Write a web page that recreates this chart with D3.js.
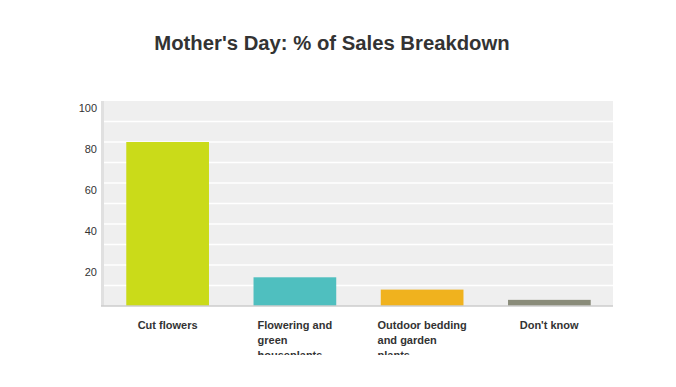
<!DOCTYPE html>
<html>
<head>
<meta charset="utf-8">
<script src="https://cdn.jsdelivr.net/npm/d3@7"></script>
<style>
  body { margin: 0; background: #fff; }
  text { font-family: "Liberation Sans", Arial, Helvetica, sans-serif; }
</style>
</head>
<body>
<div id="chart"></div>
<script>
// data
let categories = ["Cut flowers", "Flowering and green houseplants", "Outdoor bedding and garden plants", "Don't know"];
let labelLines = [["Cut flowers"], ["Flowering and", "green", "houseplants"], ["Outdoor bedding", "and garden", "plants"], ["Don't know"]];
let values = [80, 14, 8, 3];
let colors = ["#cadb19", "#4fbfbf", "#f0b21e", "#8a8c7a"];
let tickValues = [20, 40, 60, 80, 100];

let width = 676, height = 387;
let margin = {top: 101, right: 63, bottom: 81, left: 104};
let innerW = width - margin.left - margin.right;
let innerH = height - margin.top - margin.bottom;

let svg = d3.select("#chart").append("svg")
    .attr("width", width)
    .attr("height", height);

// title
svg.append("text")
    .attr("x", 332)
    .attr("y", 50)
    .attr("text-anchor", "middle")
    .attr("font-size", 20.3)
    .attr("font-weight", "bold")
    .attr("fill", "#333")
    .text("Mother's Day: % of Sales Breakdown");

let g = svg.append("g")
    .attr("transform", "translate(" + margin.left + "," + margin.top + ")");

// scales
let x = d3.scaleBand()
    .domain(categories)
    .range([0, innerW])
    .paddingInner(0.35)
    .paddingOuter(0.175);

let y = d3.scaleLinear()
    .domain([0, 100])
    .range([innerH, 0]);

// background
g.append("rect")
    .attr("width", innerW)
    .attr("height", innerH)
    .attr("fill", "#efefef");

// left edge
g.append("rect")
    .attr("x", -3)
    .attr("width", 3)
    .attr("height", innerH)
    .attr("fill", "#e0e0e0");

// gridlines every 10
g.selectAll(".grid")
    .data(d3.range(10, 100, 10))
    .enter().append("line")
    .attr("x1", 0)
    .attr("x2", innerW)
    .attr("y1", d => y(d))
    .attr("y2", d => y(d))
    .attr("stroke", "#fff")
    .attr("stroke-width", 1.5);

// bars
g.selectAll(".bar")
    .data(values)
    .enter().append("rect")
    .attr("x", (d, i) => x(categories[i]))
    .attr("y", d => y(d))
    .attr("width", x.bandwidth())
    .attr("height", d => innerH - y(d))
    .attr("fill", (d, i) => colors[i]);

// baseline
g.append("line")
    .attr("x1", -3)
    .attr("x2", innerW)
    .attr("y1", innerH)
    .attr("y2", innerH)
    .attr("stroke", "#cccccc")
    .attr("stroke-width", 1.5);

// y axis labels
let yAxis = d3.axisLeft(y)
    .tickValues(tickValues)
    .tickSize(0)
    .tickPadding(7);
let yG = g.append("g").call(yAxis);
yG.select(".domain").remove();
yG.selectAll("text")
    .attr("dy", "0.95em")
    .attr("font-size", 11)
    .attr("fill", "#333")
    .style("font-family", "'Liberation Sans', Arial, sans-serif");

// x labels, wrapped, clipped at bottom
svg.append("defs").append("clipPath")
    .attr("id", "labclip")
    .append("rect")
    .attr("x", 0)
    .attr("y", 310)
    .attr("width", width)
    .attr("height", 45);

let labG = svg.append("g").attr("clip-path", "url(#labclip)");
categories.forEach((c, i) => {
    let cx = margin.left + x(c) + x.bandwidth() / 2;
    let t = labG.append("text")
        .attr("font-size", 11)
        .attr("font-weight", "bold")
        .attr("fill", "#333");
    labelLines[i].forEach((line, j) => {
        t.append("tspan")
            .attr("x", 0)
            .attr("y", 329 + j * 15)
            .text(line);
    });
    // left-align lines, centre the block on the bar
    let w = t.node().getBBox().width;
    t.selectAll("tspan").attr("x", cx - w / 2);
});
</script>
</body>
</html>
